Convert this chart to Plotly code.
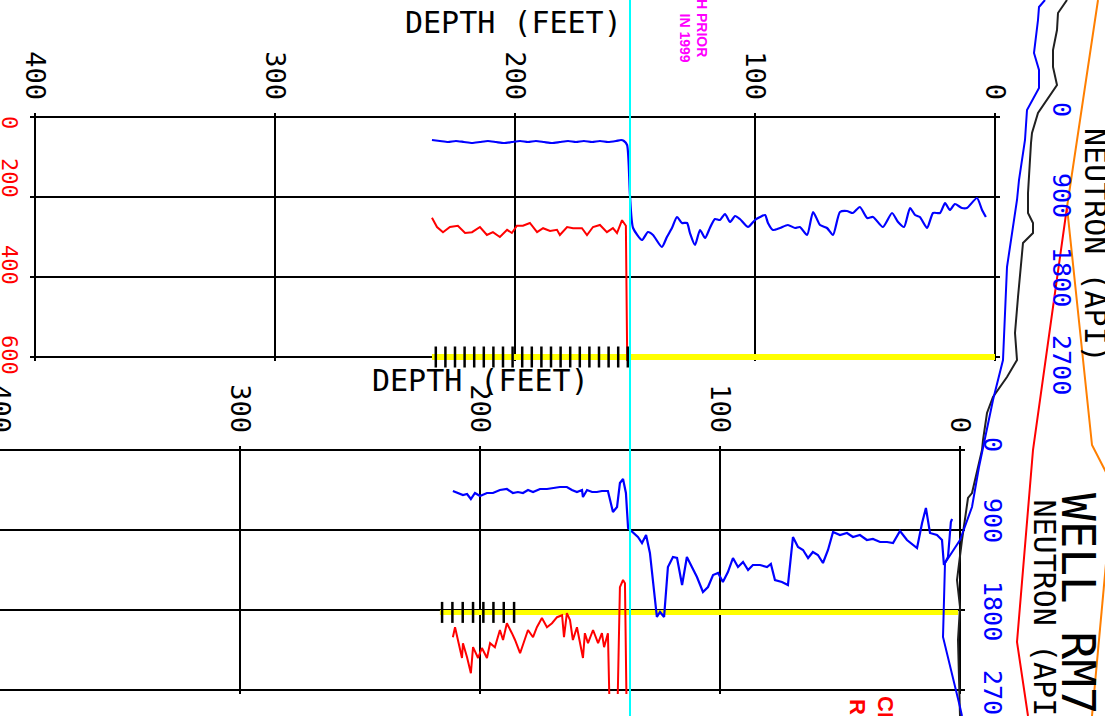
import plotly.graph_objects as go

W, H = 1105, 716

# ---------------- upper log: depth (ft) vs readings ----------------
a_blue_depth = [234.6, 231.3, 227.9, 224.6, 221.3, 217.9, 214.6, 211.3, 207.9, 204.6,
                201.3, 197.9, 194.6, 191.3, 187.9, 184.6, 181.3, 177.9, 174.6, 171.3,
                167.9, 164.6, 161.3, 157.9, 155.8, 154.6, 153.3, 152.1, 150.8,
                147.1, 144.6, 142.5, 138.8, 136.7, 134.6, 132.5, 130.4, 128.3, 127.1,
                125.0, 122.9, 120.8, 118.8, 116.7, 114.6, 112.5, 110.4, 108.3, 106.3,
                102.9, 100.0, 97.9, 95.8, 94.6, 92.5, 89.6, 86.3, 83.3, 81.3,
                78.3, 75.8, 72.9, 70.0, 67.5, 64.6, 61.7, 59.2, 56.3, 53.3,
                50.8, 46.7, 42.9, 40.4, 37.9, 35.4, 33.3, 31.3, 28.3, 25.8,
                22.9, 20.8, 18.8, 16.7, 13.8, 11.7, 7.5, 5.4, 3.8]
a_blue_api = [345, 360, 375, 360, 375, 390, 375, 360, 375, 390,
              375, 360, 375, 360, 375, 390, 375, 360, 375, 360,
              375, 360, 375, 360, 345, 360, 420, 1170, 1665,
              1845, 1725, 1770, 1950, 1800, 1665, 1500, 1590, 1590, 1740,
              1920, 1695, 1815, 1665, 1530, 1545, 1455, 1575, 1485, 1530,
              1650, 1545, 1500, 1470, 1590, 1695, 1665, 1620, 1665, 1650,
              1770, 1425, 1620, 1665, 1770, 1425, 1410, 1440, 1350, 1515,
              1500, 1650, 1440, 1575, 1650, 1365, 1470, 1500, 1665, 1440,
              1440, 1290, 1395, 1305, 1365, 1365, 1215, 1395, 1500]

a_red_depth = [234.6, 232.5, 230.0, 227.1, 223.8, 220.8, 217.9, 214.6, 211.7, 209.2,
               206.3, 203.3, 201.3, 199.2, 196.7, 193.8, 190.8, 188.3, 185.4, 182.5,
               181.3, 178.3, 175.8, 172.1, 170.0, 167.5, 164.6, 161.7, 159.2, 157.5,
               155.4, 153.8, 153.1]
a_red_val = [252, 275, 288, 275, 272, 290, 288, 275, 295, 288,
             300, 282, 290, 272, 272, 265, 288, 278, 285, 282,
             295, 275, 278, 278, 295, 275, 270, 288, 278, 290,
             258, 272, 700]

a_mark_depth = [233, 229, 225, 221, 217, 213, 209, 205, 201, 197, 193,
                189, 185, 181, 177, 173, 169, 165, 161, 157, 153]
a_mark_val = 600
a_level_depth = [234.6, 0.0]
a_level_val = 600

# ---------------- lower log ----------------
b_blue_depth = [211.3, 209.2, 207.1, 205.4, 203.8, 202.1, 200.0, 197.1, 194.6, 191.7,
                188.8, 186.3, 184.2, 182.1, 180.0, 177.9, 175.0, 172.1, 169.6, 166.7,
                163.8, 161.7, 159.6, 157.5, 157.1, 155.4, 153.3, 151.3, 149.2, 146.7,
                145.8, 144.6, 142.9, 141.7, 140.4, 139.2, 138.3, 136.3, 134.2, 132.5,
                130.8, 129.2, 127.9, 126.3, 125.0, 123.3, 121.7, 119.6, 117.9, 115.8,
                113.8, 111.7, 109.6, 107.1, 105.0, 102.9, 100.8, 98.8, 96.7, 94.6,
                92.5, 90.4, 88.3, 86.3, 83.3, 80.4, 78.8, 77.1, 74.2, 71.7,
                69.6, 67.5, 65.4, 63.3, 61.3, 59.2, 57.1, 55.0, 52.9, 50.0,
                47.1, 44.6, 41.7, 38.8, 36.3, 33.3, 30.4, 27.9, 25.0, 22.1,
                19.6, 17.9, 15.8, 14.2, 12.5, 9.6, 7.5, 6.7, 5.0, 3.8,
                3.3]
b_blue_api = [615, 645, 675, 660, 735, 645, 690, 645, 645, 600,
              585, 645, 630, 645, 600, 630, 585, 585, 570, 555,
              555, 600, 630, 600, 705, 600, 630, 630, 615, 615,
              750, 930, 855, 495, 435, 645, 1170, 1230, 1305, 1395,
              1275, 1545, 1950, 2505, 2430, 2505, 1755, 1605, 1620, 2025,
              1605, 1755, 1905, 2130, 2055, 1875, 1845, 1980, 1830, 1620,
              1755, 1680, 1800, 1725, 1725, 1755, 1710, 1950, 1980, 2025,
              1305, 1455, 1500, 1620, 1530, 1575, 1695, 1500, 1230, 1275,
              1245, 1305, 1275, 1350, 1335, 1380, 1380, 1395, 1215, 1350,
              1425, 1470, 1095, 870, 1245, 1275, 1350, 1725, 1605, 1080,
              1035]

b_red_depth = [211.3, 210.4, 209.2, 207.5, 207.1, 205.4, 203.8, 202.9, 200.8, 199.2,
               197.1, 195.8, 193.8, 191.7, 190.4, 188.8, 186.7, 185.4, 183.3, 181.3,
               180.0, 177.9, 176.3, 174.2, 172.1, 170.0, 167.9, 165.8, 165.0, 163.8,
               162.5, 161.3, 159.6, 157.1, 156.3, 155.0, 152.9, 150.8, 149.2, 148.3,
               146.7, 145.8, 142.9, 141.7, 140.4, 139.6, 138.8]
b_red_val = [468, 443, 475, 520, 483, 518, 558, 493, 520, 495,
             520, 483, 493, 450, 475, 433, 458, 475, 508, 470,
             450, 468, 443, 420, 443, 433, 418, 413, 468, 408,
             425, 475, 443, 520, 458, 483, 450, 483, 458, 493,
             458, 700, 700, 343, 325, 333, 700]

b_mark_depth = [215.8, 211.5, 207.2, 202.9, 198.6, 194.4, 190.1, 185.8]
b_mark_val = 406
b_level_depth = [216.7, 0.8]
b_level_val = 406

depth_ticks = [400, 300, 200, 100, 0]
red_ticks = [0, 200, 400, 600]
red_labels = ["0", "200", "400", "600"]
blue_labels = ["0", "900", "1800", "2700"]

# ---------------- sheet linework to the right of the logs (sheet pixels) ----------------
side_blue_x = [1045, 1039, 1038, 1034, 1039, 1039, 1027, 1025, 1019, 1017, 1007, 1003,
               993, 985, 979, 972, 960, 945, 943, 960, 962]
side_blue_y = [0, 7, 20, 53, 70, 88, 110, 140, 180, 200, 267, 360,
               400, 440, 467, 507, 540, 563, 637, 707, 716]
side_black_x = [1067, 1058, 1057, 1053, 1053, 1057, 1038, 1032, 1031, 1028, 1028, 1033,
                1033, 1023, 1018, 1015, 1017, 1007, 993, 987, 983, 982, 972, 968,
                962, 957, 960, 958, 960]
side_black_y = [0, 13, 30, 50, 67, 85, 113, 133, 143, 193, 213, 223,
                233, 243, 297, 333, 360, 377, 397, 413, 440, 450, 493, 498,
                540, 580, 607, 640, 716]
side_red_x = [1067, 1033, 1017, 1028]
side_red_y = [207, 450, 642, 716]
side_orange_x = [1098, 1067, 1092, 1110]
side_orange_y = [0, 207, 445, 480]
side_orange2_x = [1110, 1092]
side_orange2_y = [520, 716]
marker_line_x = [630, 630]
marker_line_y = [0, 716]

BLUE = "#0000ff"
RED = "#ff0000"
MONO = "DejaVu Sans Mono"


def px(x):
    return x / W


def py(y):
    return 1 - y / H


fig = go.Figure()

# upper log
fig.add_trace(go.Scatter(x=a_level_depth, y=[a_level_val] * 2, xaxis="x", yaxis="y",
                         mode="lines", line=dict(color="#ffff00", width=6)))
fig.add_trace(go.Scatter(x=a_red_depth, y=a_red_val, xaxis="x", yaxis="y",
                         mode="lines", line=dict(color=RED, width=2)))
fig.add_trace(go.Scatter(x=a_mark_depth, y=[a_mark_val] * len(a_mark_depth), xaxis="x", yaxis="y",
                         mode="markers", cliponaxis=False,
                         marker=dict(symbol="line-ns", size=15, line=dict(width=2.5, color="black"))))
fig.add_trace(go.Scatter(x=a_blue_depth, y=a_blue_api, xaxis="x", yaxis="y2",
                         mode="lines", line=dict(color=BLUE, width=2.2, shape="spline",
                                                 smoothing=0.6)))

# lower log
fig.add_trace(go.Scatter(x=b_level_depth, y=[b_level_val] * 2, xaxis="x2", yaxis="y3",
                         mode="lines", line=dict(color="#ffff00", width=5)))
fig.add_trace(go.Scatter(x=b_red_depth, y=b_red_val, xaxis="x2", yaxis="y3",
                         mode="lines", line=dict(color=RED, width=2)))
fig.add_trace(go.Scatter(x=b_mark_depth, y=[b_mark_val] * len(b_mark_depth), xaxis="x2", yaxis="y3",
                         mode="markers", cliponaxis=False,
                         marker=dict(symbol="line-ns", size=15, line=dict(width=2.5, color="black"))))
fig.add_trace(go.Scatter(x=b_blue_depth, y=b_blue_api, xaxis="x2", yaxis="y4",
                         mode="lines", line=dict(color=BLUE, width=2.2)))

# sheet linework
for xs, ys, col in [(side_orange_x, side_orange_y, "#ff7f00"),
                    (side_orange2_x, side_orange2_y, "#ff7f00"),
                    (side_red_x, side_red_y, RED),
                    (side_black_x, side_black_y, "#202020"),
                    (side_blue_x, side_blue_y, BLUE),
                    (marker_line_x, marker_line_y, "#00ffff")]:
    fig.add_trace(go.Scatter(x=xs, y=ys, xaxis="x3", yaxis="y5", mode="lines",
                             line=dict(color=col, width=2)))

grid = dict(showgrid=True, gridcolor="black", gridwidth=2, zeroline=False,
            showline=False, ticks="", automargin=False)
depth_axis = dict(grid, tickvals=depth_ticks, ticktext=[str(t) for t in depth_ticks],
                  side="top", tickangle=90, ticklabelstandoff=8, ticklabeloverflow="allow",
                  tickfont=dict(family=MONO, size=27, color="black"))
red_axis = dict(grid, range=[610, -10], tickvals=red_ticks, showticklabels=False)
blue_axis = dict(range=[3660, -60], visible=False, showgrid=False, zeroline=False,
                 automargin=False)
sheet_axis = dict(domain=[0, 1], visible=False, automargin=False)

fig.update_layout(
    width=W, height=H, autosize=False,
    margin=dict(l=0, r=0, t=0, b=0, pad=0, autoexpand=False),
    paper_bgcolor="white", plot_bgcolor="rgba(0,0,0,0)", showlegend=False,
    xaxis=dict(depth_axis, domain=[px(30.2), px(999.8)], range=[402, -2], anchor="y"),
    yaxis=dict(red_axis, domain=[py(361), py(113)], anchor="x"),
    yaxis2=dict(blue_axis, overlaying="y", anchor="x"),
    xaxis2=dict(depth_axis, domain=[0, px(964.8)], range=[400, -2], anchor="y3"),
    yaxis3=dict(red_axis, domain=[py(694), py(446)], anchor="x2"),
    yaxis4=dict(blue_axis, overlaying="y3", anchor="x2"),
    xaxis3=dict(sheet_axis, range=[0, W], anchor="y5"),
    yaxis5=dict(sheet_axis, range=[H, 0], anchor="x3"),
)

ann = []


def label(text, x, y, size, color="black", family=MONO, angle=90,
          xanchor="center", yanchor="middle", bold=False):
    # positions are in sheet pixels via the full-page x3/y5 axes
    ann.append(dict(text=f"<b>{text}</b>" if bold else text, x=x, y=y,
                    xref="x3", yref="y5", showarrow=False, textangle=angle,
                    xanchor=xanchor, yanchor=yanchor,
                    font=dict(family=family, size=size, color=color)))


label("DEPTH (FEET)", 513, 22, 30, angle=0)
label("DEPTH (FEET)", 480, 380, 30, angle=0)

for t, yc in zip(red_labels, [122, 178, 265, 355]):
    label(t, 10, yc, 22, color=RED)
for t, yc in zip(blue_labels, [109, 195, 277, 365]):
    label(t, 1062, yc, 25, color=BLUE)
for t, yc in zip(blue_labels, [444, 520, 611, 700]):
    label(t, 993, yc, 25, color=BLUE)

label("NEUTRON (API)", 1096, 245, 30)
label("NEUTRON (API)", 1044, 497, 30, yanchor="top")
label("WELL RM7", 1078, 491, 46, yanchor="top")

label("H PRIOR", 702, 59, 14, color="#ff00ff", family="Liberation Sans",
      yanchor="bottom", bold=True)
label("IN 1999", 685, 64, 14, color="#ff00ff", family="Liberation Sans",
      yanchor="bottom", bold=True)
label("CI", 886, 694, 22, color=RED, family="Liberation Sans", yanchor="top", bold=True)
label("R", 858, 697, 22, color=RED, family="Liberation Sans", yanchor="top", bold=True)

fig.update_layout(annotations=ann)
fig.write_html("out.html")
